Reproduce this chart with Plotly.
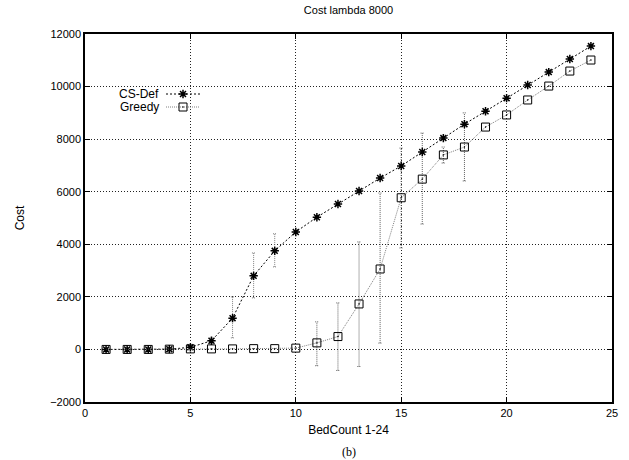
import plotly.graph_objects as go

bed_count = list(range(1, 25))
cs_def = [0, 0, 0, 10, 80, 330, 1190, 2800, 3750, 4470, 5030, 5530, 6030, 6520,
          6980, 7510, 8040, 8570, 9060, 9560, 10060, 10550, 11050, 11540]
greedy = [0, 0, 0, 10, 20, 20, 20, 30, 30, 50, 250, 490, 1730, 3060,
          5770, 6480, 7400, 7700, 8460, 8920, 9490, 10020, 10590, 11010]
# error ranges (low, high); None where no bar
cs_lo = [None] * 5 + [230, 440, 1960, 3140] + [None] * 15
cs_hi = [None] * 5 + [430, 2000, 3670, 4400] + [None] * 15
gr_lo = [None] * 10 + [-620, -800, -650, 240, 3860, 4770, 7090, 6410] + [None] * 6
gr_hi = [None] * 10 + [1050, 1770, 4090, 5950, 7660, 8230, 7700, 9000] + [None] * 6

title_text = "Cost lambda 8000"
x_title = "BedCount 1-24"
y_title = "Cost"
x_ticks = [0, 5, 10, 15, 20, 25]
y_ticks = [-2000, 0, 2000, 4000, 6000, 8000, 10000, 12000]

FONT = "Liberation Sans, Arial, sans-serif"
CAP = 0.08


def err_paths(xs, lo, hi):
    ex, ey = [], []
    for x, l, h in zip(xs, lo, hi):
        if l is None:
            continue
        ex += [x, x, None, x - CAP, x + CAP, None, x - CAP, x + CAP, None]
        ey += [l, h, None, l, l, None, h, h, None]
    return ex, ey


fig = go.Figure()

ex, ey = err_paths(bed_count, cs_lo, cs_hi)
fig.add_trace(go.Scatter(x=ex, y=ey, mode="lines", showlegend=False,
                         line=dict(color="#808080", width=1, dash="1px,1px"),
                         hoverinfo="skip"))
ex, ey = err_paths(bed_count, gr_lo, gr_hi)
fig.add_trace(go.Scatter(x=ex, y=ey, mode="lines", showlegend=False,
                         line=dict(color="#606060", width=1, dash="1px,1px"),
                         hoverinfo="skip"))

cs_line = dict(color="black", width=1, dash="2px,2px")
gr_line = dict(color="#808080", width=1, dash="1px,1px")
cs_marker = dict(symbol="asterisk-open", size=7, line=dict(color="black", width=1.5), color="black")
gr_marker = dict(symbol="square-open-dot", size=8, line=dict(color="black", width=1), color="black")

fig.add_trace(go.Scatter(x=bed_count, y=cs_def, mode="lines+markers", name="CS-Def",
                         line=cs_line, marker=cs_marker, showlegend=False))
fig.add_trace(go.Scatter(x=bed_count, y=greedy, mode="lines+markers", name="Greedy",
                         line=gr_line, marker=gr_marker, showlegend=False))

# manual gnuplot-style legend (text left, sample right) on an overlay axis
L = 85; R = 612; T = 34; B = 402
def px(x):
    return (x - L) / (R - L)
def py(y):
    return 1 - (y - T) / (B - T)

for name, yy, ln, mk in [("CS-Def", 94, cs_line, cs_marker), ("Greedy", 107, gr_line, gr_marker)]:
    fig.add_trace(go.Scatter(x=[px(166), px(200)], y=[py(yy), py(yy)], mode="lines",
                             line=ln, xaxis="x2", yaxis="y2", showlegend=False, hoverinfo="skip"))
    fig.add_trace(go.Scatter(x=[px(183)], y=[py(yy)], mode="markers",
                             marker=mk, xaxis="x2", yaxis="y2", showlegend=False, hoverinfo="skip"))
    fig.add_annotation(x=px(161), y=py(yy), xref="paper", yref="paper", text=name,
                       showarrow=False, xanchor="right", yanchor="middle",
                       font=dict(family=FONT, size=12, color="black"))

fig.add_annotation(x=0.5, y=py(452), xref="paper", yref="paper", text="(b)",
                   showarrow=False, xanchor="center", yanchor="middle",
                   font=dict(family="Liberation Serif, serif", size=12, color="black"))

axis_common = dict(showline=True, linecolor="black", linewidth=1.5, mirror="ticks",
                   ticks="inside", ticklen=5, tickcolor="black", tickwidth=1,
                   showgrid=True, gridcolor="#222222", gridwidth=1, griddash="1px,2px",
                   zeroline=False, tickfont=dict(family=FONT, size=11, color="black"))

fig.update_layout(
    width=629, height=460,
    margin=dict(l=L, r=629 - R, t=T, b=460 - B),
    paper_bgcolor="white", plot_bgcolor="white",
    title=dict(text=title_text, x=0.5 * (L + R) / 629, xanchor="center", y=1 - 10 / 460,
               yanchor="middle", font=dict(family=FONT, size=11, color="black")),
    xaxis=dict(range=[0, 25], tickvals=x_ticks,
               title=dict(text=x_title, font=dict(family=FONT, size=12, color="black"), standoff=8),
               **axis_common),
    yaxis=dict(range=[-2000, 12000], tickvals=y_ticks, tickformat="d",
               title=dict(text=y_title, font=dict(family=FONT, size=12, color="black"), standoff=23),
               **axis_common),
    xaxis2=dict(range=[0, 1], overlaying="x", visible=False, fixedrange=True),
    yaxis2=dict(range=[0, 1], overlaying="y", visible=False, fixedrange=True),
    showlegend=False,
)

fig.write_html("out.html")
